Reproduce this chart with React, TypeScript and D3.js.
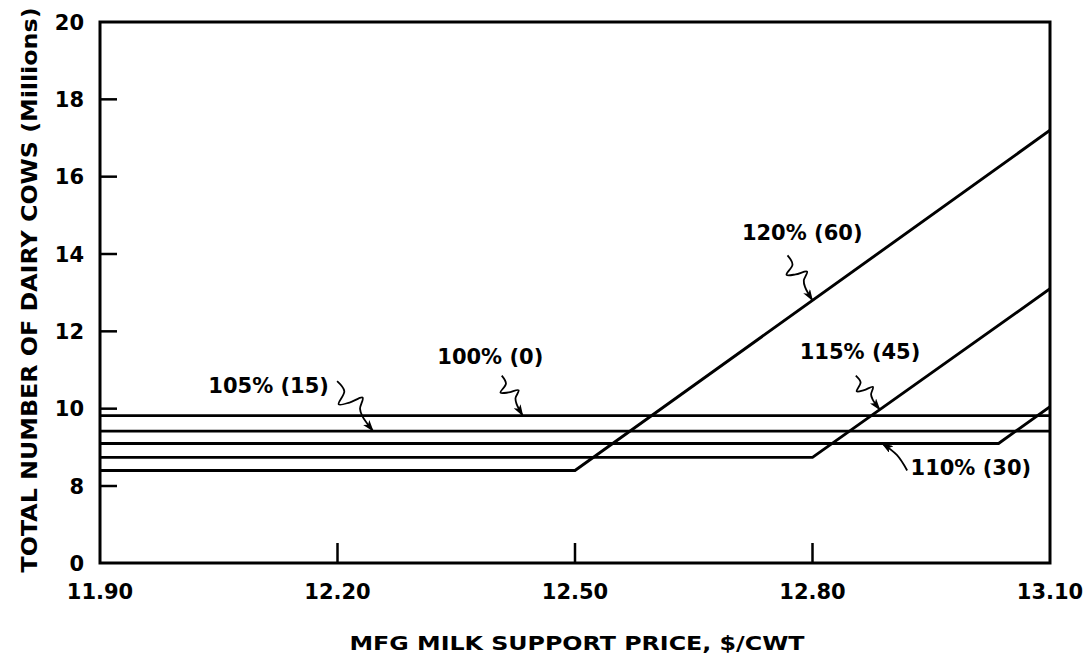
import React from "react";
import * as d3 from "d3";

// ---- data ----
const priceTicks = [11.9, 12.2, 12.5, 12.8, 13.1];
const priceTickLabels = ["11.90", "12.20", "12.50", "12.80", "13.10"];
const cowTicks = [0, 8, 10, 12, 14, 16, 18, 20];

const price100 = [11.9, 13.1];
const cows100 = [9.82, 9.82];
const price105 = [11.9, 13.1];
const cows105 = [9.42, 9.42];
const price110 = [11.9, 13.035, 13.1];
const cows110 = [9.1, 9.1, 10.05];
const price115 = [11.9, 12.8, 13.1];
const cows115 = [8.74, 8.74, 13.1];
const price120 = [11.9, 12.5, 13.1];
const cows120 = [8.4, 8.4, 17.2];

const seriesLabels = ["100% (0)", "105% (15)", "110% (30)", "115% (45)", "120% (60)"];
const seriesPrices = [price100, price105, price110, price115, price120];
const seriesCows = [cows100, cows105, cows110, cows115, cows120];

// annotation label anchors (data coords) and arrow tips (price on series)
const labelPrice = [12.393, 12.113, 13.0, 12.86, 12.787];
const labelCows = [11.34, 10.6, 8.47, 11.48, 14.55];
const tipPrice = [12.434, 12.245, 12.888, 12.885, 12.8];

// ---- layout / style ----
const W = 1092;
const H = 667;
const M = { left: 100, right: 1050, top: 22, bottom: 563 };
const FONT = "'DejaVu Sans', 'Liberation Sans', Arial, sans-serif";

// arrow tail offsets (px from tip) and wiggle flag
const tailOffsets: [number, number, boolean][] = [
  [-21, -40, true],
  [-36, -50, true],
  [25, 27, false],
  [-24, -34, true],
  [-25, -45, true],
];

export default function App() {
  const x = d3.scaleLinear().domain([11.9, 13.1]).range([M.left, M.right]);
  const y = d3.scaleLinear().domain([0, 8, 20]).range([M.bottom, M.bottom - 77, M.top]);

  const line = d3
    .line<[number, number]>()
    .x((d) => x(d[0]))
    .y((d) => y(d[1]));

  const smooth = d3
    .line<[number, number]>()
    .x((d) => d[0])
    .y((d) => d[1])
    .curve(d3.curveCatmullRom.alpha(0.5));

  const arrows = seriesLabels.map((_, i) => {
    const px = tipPrice[i];
    const val = d3.scaleLinear().domain(seriesPrices[i]).range(seriesCows[i])(px);
    const tip: [number, number] = [x(px), y(val)];
    const [ox, oy, wig] = tailOffsets[i];
    const tail: [number, number] = [tip[0] + ox, tip[1] + oy];
    const dx = tip[0] - tail[0];
    const dy = tip[1] - tail[1];
    const L = Math.hypot(dx, dy);
    const ux = dx / L;
    const uy = dy / L;
    const nx = uy;
    const ny = -ux;
    const prof: [number, number][] = wig
      ? [
          [0, 0],
          [0.2, 0],
          [0.32, -0.2],
          [0.4, -0.04],
          [0.46, 0.18],
          [0.58, 0.04],
          [0.7, 0],
          [1, 0],
        ]
      : [
          [0, 0],
          [0.5, -0.08],
          [1, 0],
        ];
    const pts = prof.map(
      ([t, o]) => [tail[0] + dx * t + nx * o * L, tail[1] + dy * t + ny * o * L] as [number, number]
    );
    return smooth(pts) || "";
  });

  return (
    <svg
      width={W}
      height={H}
      viewBox={`0 0 ${W} ${H}`}
      style={{ position: "absolute", left: 0, top: 0, background: "#fff" }}
    >
      <defs>
        <marker
          id="arr"
          viewBox="0 0 12 8"
          refX="11"
          refY="4"
          markerWidth="12"
          markerHeight="8"
          markerUnits="userSpaceOnUse"
          orient="auto"
        >
          <path d="M0,0 L12,4 L0,8 L3,4 Z" fill="#000" />
        </marker>
        <clipPath id="plot">
          <rect x={M.left} y={M.top} width={M.right - M.left} height={M.bottom - M.top} />
        </clipPath>
      </defs>
      <rect x={0} y={0} width={W} height={H} fill="#fff" />

      {/* series lines */}
      <g clipPath="url(#plot)">
        {seriesPrices.map((ps, i) => (
          <path
            key={i}
            d={line(ps.map((p, j) => [p, seriesCows[i][j]] as [number, number])) || ""}
            fill="none"
            stroke="#000"
            strokeWidth={2.9}
            strokeLinejoin="miter"
          />
        ))}
      </g>

      {/* frame */}
      <rect
        x={M.left}
        y={M.top}
        width={M.right - M.left}
        height={M.bottom - M.top}
        fill="none"
        stroke="#000"
        strokeWidth={3}
      />

      {/* y ticks */}
      {cowTicks.map((t) => (
        <g key={t}>
          {t !== 0 && t !== 20 && (
            <line x1={M.left} x2={M.left + 17} y1={y(t)} y2={y(t)} stroke="#000" strokeWidth={2.5} />
          )}
          <text
            x={M.left - 16}
            y={y(t)}
            dy="0.36em"
            textAnchor="end"
            fontFamily={FONT}
            fontWeight="bold"
            fontSize={21}
          >
            {t}
          </text>
        </g>
      ))}

      {/* x ticks */}
      {priceTicks.map((t, i) => (
        <g key={t}>
          {i !== 0 && i !== priceTicks.length - 1 && (
            <line x1={x(t)} x2={x(t)} y1={M.bottom} y2={M.bottom - 20} stroke="#000" strokeWidth={2.5} />
          )}
          <text
            x={x(t)}
            y={599}
            textAnchor="middle"
            fontFamily={FONT}
            fontWeight="bold"
            fontSize={21}
          >
            {priceTickLabels[i]}
          </text>
        </g>
      ))}

      {/* axis titles */}
      <text
        x={577}
        y={650}
        textAnchor="middle"
        fontFamily={FONT}
        fontWeight="bold"
        fontSize={19}
        textLength={455}
        lengthAdjust="spacingAndGlyphs"
      >
        MFG MILK SUPPORT PRICE, $/CWT
      </text>
      <text
        transform={`translate(37,290) rotate(-90)`}
        textAnchor="middle"
        fontFamily={FONT}
        fontWeight="bold"
        fontSize={22}
        textLength={565}
        lengthAdjust="spacingAndGlyphs"
      >
        TOTAL NUMBER OF DAIRY COWS (Millions)
      </text>

      {/* annotations */}
      {seriesLabels.map((s, i) => (
        <g key={s}>
          <path d={arrows[i]} fill="none" stroke="#000" strokeWidth={1.8} markerEnd="url(#arr)" />
          <text
            x={x(labelPrice[i])}
            y={y(labelCows[i])}
            dy="0.36em"
            textAnchor="middle"
            fontFamily={FONT}
            fontWeight="bold"
            fontSize={21}
          >
            {s}
          </text>
        </g>
      ))}
    </svg>
  );
}
